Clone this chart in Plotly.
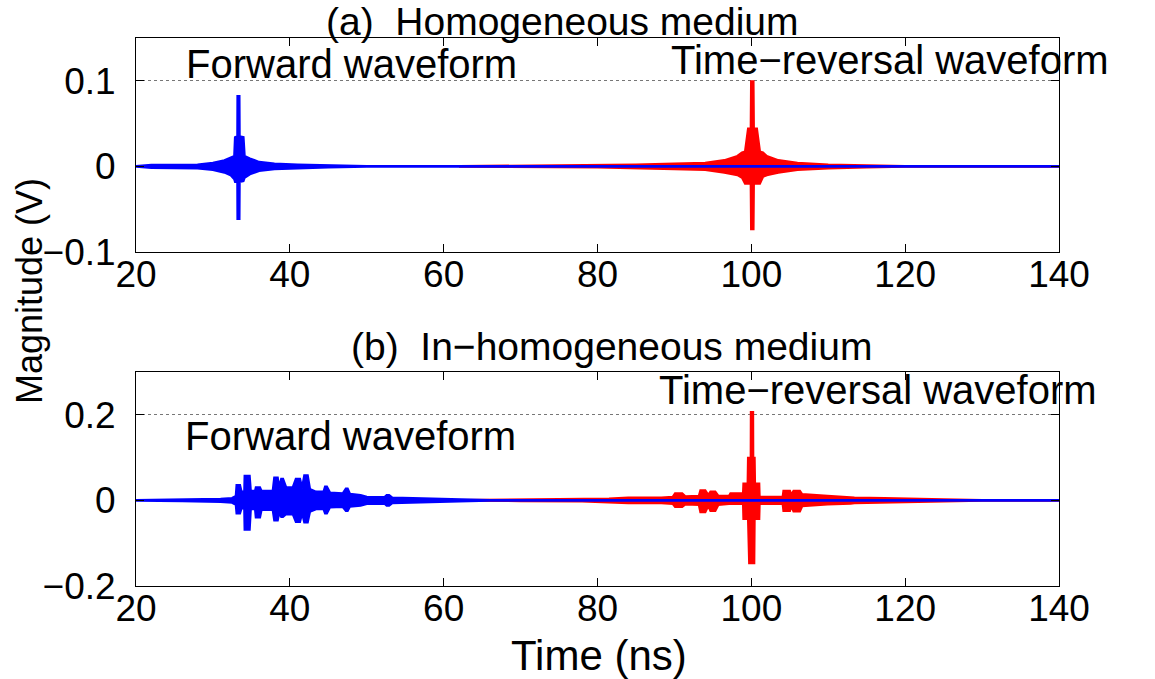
import plotly.graph_objects as go

W, H = 1155, 679

# ---------------- data (envelopes) ----------------
# (a) homogeneous medium, forward waveform (blue)
fa_t  = [20, 22, 28, 30, 31.5, 32.3, 32.8, 32.9, 33.2, 33.22, 33.42, 33.45, 33.95, 34.1, 34.8, 36, 38, 41, 45, 50, 140]
fa_hi = [0, 0.0015, 0.002, 0.004, 0.007, 0.010, 0.012, 0.034, 0.035, 0.082, 0.082, 0.035, 0.034, 0.012, 0.009, 0.005, 0.003, 0.002, 0.001, 0, 0]
fa_lo = [0, -0.0015, -0.002, -0.004, -0.007, -0.010, -0.015, -0.018, -0.018, -0.061, -0.061, -0.018, -0.017, -0.013, -0.009, -0.005, -0.003, -0.002, -0.001, 0, 0]

# (a) homogeneous medium, time-reversal waveform (red)
ra_t  = [62, 80, 85, 90, 94, 96.5, 98.2, 98.8, 99.2, 99.6, 99.95, 100.0, 100.25, 100.3, 100.7, 101.1, 101.5, 102.0, 103.5, 106, 110, 115, 120, 140]
ra_hi = [0, 0.001, 0.002, 0.003, 0.004, 0.007, 0.012, 0.016, 0.017, 0.044, 0.044, 0.099, 0.099, 0.044, 0.044, 0.017, 0.016, 0.012, 0.007, 0.004, 0.002, 0.001, 0, 0]
ra_lo = [0, -0.001, -0.002, -0.003, -0.004, -0.007, -0.010, -0.013, -0.020, -0.020, -0.020, -0.073, -0.073, -0.020, -0.020, -0.020, -0.012, -0.010, -0.007, -0.004, -0.002, -0.001, 0, 0]

# (b) in-homogeneous medium, forward waveform (blue)
fb_t  = [20, 26, 31, 32.5, 33.0, 33.1, 33.5, 33.7, 34.1, 34.15, 34.75, 34.9, 35.5, 35.6, 36.1, 36.3, 37.8, 38.0, 38.4, 38.6,
         38.9, 39.1, 39.5, 40.4, 40.8, 41.3, 41.6, 41.9, 42.3, 42.6, 43.4, 44.4, 44.6, 44.8, 45.2, 46.9, 47.3, 47.5, 47.8,
         49.2, 50, 52.3, 52.6, 52.9, 53.3, 56, 58, 62, 66, 140]
fb_hi = [0, 0.0015, 0.003, 0.005, 0.010, 0.035, 0.035, 0.020, 0.020, 0.057, 0.057, 0.022, 0.022, 0.030, 0.030, 0.022, 0.022, 0.053, 0.053, 0.028,
         0.050, 0.050, 0.030, 0.030, 0.050, 0.050, 0.028, 0.058, 0.058, 0.026, 0.020, 0.020, 0.032, 0.032, 0.018, 0.016, 0.027, 0.027, 0.015,
         0.012, 0.008, 0.007, 0.012, 0.012, 0.006, 0.005, 0.004, 0.002, 0, 0]
fb_lo = [0, -0.0015, -0.003, -0.005, -0.010, -0.030, -0.030, -0.018, -0.018, -0.068, -0.068, -0.020, -0.020, -0.039, -0.039, -0.022, -0.022, -0.046, -0.046, -0.028,
         -0.038, -0.038, -0.032, -0.032, -0.050, -0.050, -0.028, -0.051, -0.051, -0.026, -0.020, -0.020, -0.030, -0.030, -0.016, -0.015, -0.024, -0.024, -0.014,
         -0.012, -0.008, -0.007, -0.012, -0.012, -0.006, -0.005, -0.004, -0.002, 0, 0]

# (b) in-homogeneous medium, time-reversal waveform (red)
rb_t  = [62, 70, 78, 81.5, 84, 88.3, 89.8, 90.1, 91.0, 91.4, 93.2, 93.4, 94.0, 94.4, 94.7, 95.3, 95.7, 97.1, 97.3, 98.95,
         99.0, 99.55, 99.6, 99.75, 99.95, 99.97, 100.2, 100.22, 100.35, 100.4, 100.45, 101.0, 101.05, 104.1, 104.2, 105.0,
         105.2, 105.5, 106.3, 106.6, 109.9, 112.9, 113.4, 117.3, 121, 125, 130, 140]
rb_hi = [0, 0.001, 0.002, 0.004, 0.006, 0.006, 0.008, 0.016, 0.016, 0.009, 0.010, 0.023, 0.023, 0.012, 0.020, 0.020, 0.010, 0.010, 0.016, 0.016,
         0.039, 0.039, 0.099, 0.099, 0.099, 0.206, 0.206, 0.099, 0.099, 0.099, 0.039, 0.039, 0.008, 0.008, 0.022, 0.022,
         0.012, 0.022, 0.022, 0.014, 0.010, 0.007, 0.006, 0.005, 0.003, 0.002, 0, 0]
rb_lo = [0, -0.001, -0.002, -0.004, -0.006, -0.006, -0.008, -0.015, -0.015, -0.009, -0.010, -0.027, -0.027, -0.012, -0.024, -0.024, -0.010, -0.008, -0.008, -0.008,
         -0.043, -0.043, -0.043, -0.146, -0.146, -0.146, -0.146, -0.146, -0.146, -0.043, -0.043, -0.043, -0.008, -0.008, -0.024, -0.024,
         -0.012, -0.025, -0.025, -0.013, -0.009, -0.007, -0.006, -0.005, -0.003, -0.002, 0, 0]

x_range = [20, 140]
x_ticks = [20, 40, 60, 80, 100, 120, 140]
ya_range = [-0.1, 0.15]
ya_ticks = [-0.1, 0, 0.1]
ya_text = ["\u22120.1", "0", "0.1"]
yb_range = [-0.2, 0.3]
yb_ticks = [-0.2, 0, 0.2]
yb_text = ["\u22120.2", "0", "0.2"]

titles = ["(a)  Homogeneous medium", "(b)  In\u2212homogeneous medium"]
fwd_label = "Forward waveform"
tr_label = "Time\u2212reversal waveform"
x_label = "Time (ns)"
y_label = "Magnitude (V)"

BLUE = "#0000ff"
RED = "#ff0000"
FONT = "Liberation Sans"

def band(t, hi, lo, color, xa, ya):
    xs = list(t) + list(t)[::-1]
    ys = list(hi) + list(lo)[::-1]
    return go.Scatter(x=xs, y=ys, mode="lines", fill="toself", fillcolor=color,
                      line=dict(color=color, width=2.6), xaxis=xa, yaxis=ya,
                      hoverinfo="skip", showlegend=False)

fig = go.Figure()
fig.add_trace(band(ra_t, ra_hi, ra_lo, RED, "x", "y"))
fig.add_trace(band(fa_t, fa_hi, fa_lo, BLUE, "x", "y"))
fig.add_trace(band(rb_t, rb_hi, rb_lo, RED, "x2", "y2"))
fig.add_trace(band(fb_t, fb_hi, fb_lo, BLUE, "x2", "y2"))

def px2x(px):
    return px / W

def px2y(py):
    return 1 - py / H

xdom = [px2x(136), px2x(1059)]
axis_common = dict(showline=True, linecolor="black", linewidth=1, mirror="ticks",
                   ticks="inside", ticklen=8, tickcolor="black", tickwidth=1, automargin=False,
                   tickfont=dict(family=FONT, size=37, color="black"), zeroline=False)

fig.update_layout(
    width=W, height=H, margin=dict(l=0, r=0, t=0, b=0, pad=0, autoexpand=False),
    paper_bgcolor="white", plot_bgcolor="white", showlegend=False,
    xaxis=dict(domain=xdom, range=x_range, tickvals=x_ticks, anchor="y", showgrid=False,
               ticklabelstandoff=-10, **axis_common),
    yaxis=dict(domain=[px2y(252), px2y(38)], range=ya_range, tickvals=ya_ticks, ticktext=ya_text,
               anchor="x", showgrid=True, gridcolor="#777777", griddash="dot", gridwidth=1,
               ticklabelstandoff=12, **axis_common),
    xaxis2=dict(domain=xdom, range=x_range, tickvals=x_ticks, anchor="y2", showgrid=False,
                ticklabelstandoff=-10, **axis_common),
    yaxis2=dict(domain=[px2y(586), px2y(372)], range=yb_range, tickvals=yb_ticks, ticktext=yb_text,
                anchor="x2", showgrid=True, gridcolor="#777777", griddash="dot", gridwidth=1,
                ticklabelstandoff=12, **axis_common),
)

def ann(text, px, py, size=40, angle=0):
    fig.add_annotation(text=text, x=px2x(px), y=px2y(py), xref="paper", yref="paper",
                       xanchor="center", yanchor="middle", showarrow=False, textangle=angle,
                       font=dict(family=FONT, size=size, color="black"))

ann(titles[0], 562, 22, size=39)
ann(titles[1], 611, 346, size=39)
ann(fwd_label, 351, 64)
ann(tr_label, 890, 60)
ann(fwd_label, 350, 436)
ann(tr_label, 878, 390)
ann(x_label, 599, 655, size=42)
ann(y_label, 29, 291, size=36, angle=-90)

fig.write_html("out.html")
